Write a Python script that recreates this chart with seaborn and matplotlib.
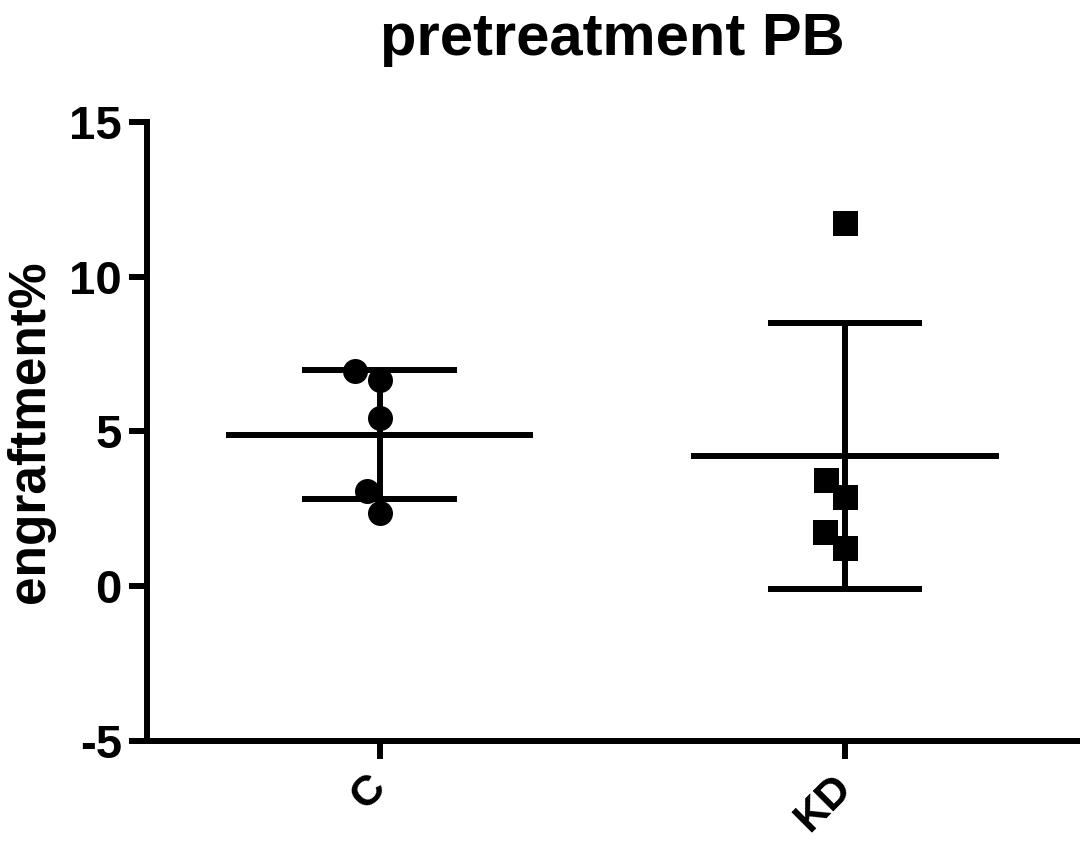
import numpy as np
import pandas as pd
import matplotlib
matplotlib.use("Agg")
import matplotlib.pyplot as plt
import seaborn as sns

# ---- data ----
groups = ["C", "KD"]
c_values = [6.67, 6.96, 5.44, 3.07, 2.36]
kd_values = [11.72, 3.43, 2.88, 1.75, 1.23]
title = "pretreatment PB"
ylabel = "engraftment%"
yticks = [-5, 0, 5, 10, 15]

df = pd.DataFrame({
    "group": ["C"] * len(c_values) + ["KD"] * len(kd_values),
    "value": c_values + kd_values,
})

sns.set_theme(style="ticks")
plt.rcParams["font.family"] = ["Liberation Sans", "DejaVu Sans"]
plt.rcParams["font.weight"] = "bold"
plt.rcParams["axes.labelweight"] = "bold"
plt.rcParams["axes.titleweight"] = "bold"

fig = plt.figure(figsize=(10.8, 8.46), dpi=100)
ax = fig.add_axes([0.136, 0.124, 0.862, 0.732])

LW = 4.3
stats = df.groupby("group", sort=False)["value"].agg(["mean", "std"])
for i, g in enumerate(groups):
    m = stats.loc[g, "mean"]
    s = stats.loc[g, "std"]
    ax.hlines(m, i - 0.33, i + 0.33, color="black", lw=LW, zorder=2)
    ax.vlines(i, m - s, m + s, color="black", lw=LW, zorder=2)
    ax.hlines([m - s, m + s], i - 0.166, i + 0.166, color="black", lw=LW, zorder=2)

markers = {"C": "o", "KD": "s"}
for g in groups:
    sns.swarmplot(data=df[df["group"] == g], x="group", y="value", order=groups,
                  color="black", marker=markers[g], size=18, linewidth=0,
                  ax=ax, zorder=3)

ax.set_xlim(-0.5, 1.5)
ax.set_ylim(-5, 15)
ax.set_yticks(yticks)
ax.set_yticklabels([str(t) for t in yticks])
ax.set_xticks(range(len(groups)))
ax.set_xticklabels(groups, rotation=45, ha="right", va="center",
                   rotation_mode="anchor")

sns.despine(ax=ax)
for sp in ["left", "bottom"]:
    ax.spines[sp].set_linewidth(LW)
    ax.spines[sp].set_color("black")
ax.tick_params(axis="both", length=13, width=LW, color="black", labelcolor="black")
ax.tick_params(axis="y", labelsize=34, pad=5)
ax.tick_params(axis="x", labelsize=31, pad=16)

ax.set_xlabel("")
ax.set_ylabel(ylabel, fontsize=37, fontweight="bold", labelpad=10, color="black")
ax.set_title(title, fontsize=43, fontweight="bold", pad=48, color="black")

fig.savefig("out.png", dpi=100)
